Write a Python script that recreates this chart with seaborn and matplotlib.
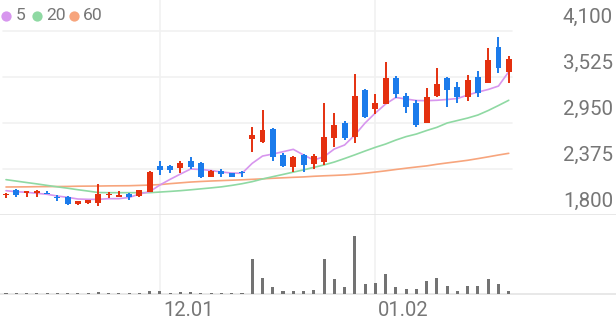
import numpy as np
import pandas as pd
import matplotlib
matplotlib.use("Agg")
import matplotlib.pyplot as plt
import matplotlib.transforms as mtransforms
from matplotlib.lines import Line2D
import seaborn as sns

# ---------------- data ----------------
dates = [d for d in pd.bdate_range("2022-11-10", "2023-01-19") if d != pd.Timestamp("2022-12-30")]

opens = [2050, 2110, 2070, 2080, 2075, 2025, 2020, 1937, 1946, 1955,
         2050, 2030, 2065, 2037, 2091, 2412, 2412, 2383, 2479, 2446,
         2280, 2354, 2321, 2330, 2744, 2712, 2881, 2544, 2396, 2554,
         2441, 2462, 2762, 2956, 2779, 3362, 3121, 3187, 3516, 3287,
         3204, 2946, 3287, 3508, 3396, 3279, 3529, 3446, 3896, 3591]
closes = [2065, 2050, 2105, 2090, 2065, 2010, 1935, 1975, 1987, 2060,
          2060, 2040, 2025, 2112, 2341, 2358, 2362, 2454, 2404, 2279,
          2355, 2312, 2279, 2320, 2800, 2862, 2529, 2409, 2529, 2425,
          2533, 2769, 2925, 2758, 3287, 3029, 3204, 3516, 3308, 3154,
          2925, 3279, 3433, 3362, 3279, 3487, 3321, 3737, 3634, 3746]
highs = [2080, 2125, 2105, 2112, 2100, 2050, 2037, 1975, 1990, 2185,
         2090, 2095, 2080, 2115, 2345, 2479, 2425, 2471, 2529, 2462,
         2360, 2375, 2325, 2354, 2904, 3112, 2890, 2571, 2535, 2560,
         2562, 3196, 3075, 2979, 3562, 3371, 3312, 3716, 3537, 3321,
         3237, 3383, 3633, 3521, 3466, 3550, 3604, 3883, 4021, 3787]
lows = [2010, 2030, 2030, 2030, 2060, 1975, 1925, 1925, 1940, 1912,
        2010, 2025, 1990, 2030, 2087, 2300, 2321, 2321, 2371, 2259,
        2275, 2271, 2275, 2279, 2591, 2696, 2475, 2396, 2341, 2341,
        2371, 2425, 2644, 2737, 2700, 3008, 3062, 3187, 3258, 3071,
        2904, 2946, 3271, 3146, 3204, 3229, 3279, 3446, 3579, 3454]
volumes = [35000, 30000, 25000, 25000, 25000, 30000, 25000, 25000, 30000, 85000,
           35000, 30000, 35000, 40000, 165000, 160000, 40000, 85000, 85000, 65000,
           50000, 35000, 35000, 35000, 1750000, 800000, 365000, 160000, 160000, 150000,
           180000, 1750000, 760000, 365000, 2880000, 500000, 550000, 1015000, 335000, 250000,
           250000, 665000, 785000, 385000, 165000, 415000, 400000, 750000, 500000, 150000]
ma5 = [2104, 2091, 2084, 2071, 2059, 2037, 2021, 2000, 1996, 1996,
       2004, 2004, 2019, 2062, 2091, 2175, 2246, 2312, 2375, 2369,
       2356, 2337, 2325, 2321, 2446, 2537, 2562, 2591, 2621, 2550,
       2487, 2529, 2625, 2675, 2800, 2950, 3075, 3187, 3269, 3250,
       3231, 3229, 3234, 3244, 3256, 3300, 3337, 3369, 3412, 3591]
ma20 = [2242, 2224, 2206, 2189, 2170, 2152, 2135, 2116, 2099, 2081,
        2079, 2079, 2079, 2079, 2079, 2087, 2095, 2104, 2115, 2127,
        2139, 2152, 2170, 2191, 2217, 2250, 2279, 2307, 2336, 2364,
        2395, 2426, 2462, 2506, 2552, 2600, 2646, 2687, 2737, 2780,
        2812, 2856, 2896, 2950, 2981, 3012, 3050, 3106, 3169, 3234]
ma60 = [2150, 2151, 2152, 2154, 2155, 2156, 2157, 2160, 2161, 2162,
        2164, 2165, 2166, 2170, 2174, 2180, 2192, 2202, 2212, 2219,
        2225, 2230, 2235, 2240, 2246, 2252, 2259, 2265, 2271, 2276,
        2284, 2290, 2295, 2301, 2310, 2322, 2337, 2352, 2369, 2385,
        2400, 2414, 2434, 2451, 2467, 2484, 2505, 2527, 2550, 2571]
price_ticks = [1800, 2375, 2950, 3525, 4100]
ma_labels = ["5", "20", "60"]

# ---------------- style ----------------
sns.set_style("white")
plt.rcParams["font.family"] = ["Roboto", "DejaVu Sans"]

UP = "#e4300f"
DOWN = "#1b7beb"
MA_COLORS = ["#d796ee", "#8fd9a3", "#f7a57d"]
TXT = "#767676"
GRID = "#f1f1f1"
SEP = "#e4e4e4"
VOL = "#737373"

W, H = 616, 321
fig = plt.figure(figsize=(W / 100, H / 100), dpi=100)

def px_axes(top, bottom):
    return fig.add_axes([0, 1 - bottom / H, 1, (bottom - top) / H])

ax = px_axes(0, 215)
axv = px_axes(215, 294)

n = len(dates)
x = np.arange(n)
step = 10.26
xlim = (-6 / step, (W - 6) / step)

# price panel
gap = price_ticks[1] - price_ticks[0]
ax.set_ylim(price_ticks[0], price_ticks[-1] + gap * 31 / 46)
for v in price_ticks[1:]:
    ax.axhline(v, xmin=3 / W, xmax=512 / W, color=GRID, lw=1.2, zorder=0)

month_idx = [i for i in range(1, n) if dates[i].month != dates[i - 1].month]
for i in month_idx:
    ax.axvline(i, color=GRID, lw=1.2, zorder=0)
    axv.axvline(i, color=GRID, lw=1.2, zorder=0)

df = pd.DataFrame({"i": x, "ma5": ma5, "ma20": ma20, "ma60": ma60, "vol": volumes})
for col, c in zip(["ma60", "ma20", "ma5"], MA_COLORS[::-1]):
    sns.lineplot(data=df, x="i", y=col, color=c, lw=1.2, ax=ax, zorder=2)

o = np.array(opens); c_ = np.array(closes)
colors = [UP if cc >= oo else DOWN for oo, cc in zip(o, c_)]
body_lo = np.minimum(o, c_)
body_h = np.maximum(np.abs(c_ - o), 14)
ax.vlines(x, lows, highs, colors=colors, lw=1.4, zorder=3)
ax.bar(x, body_h, bottom=body_lo, width=0.58, color=colors, linewidth=0, zorder=4)

ax.set_xlim(*xlim)
ax.set_xlabel(""); ax.set_ylabel("")
ax.set_xticks([]); ax.set_yticks([])
for s in ["top", "left", "right"]:
    ax.spines[s].set_visible(False)
ax.spines["bottom"].set_color(SEP)
ax.spines["bottom"].set_linewidth(1.2)

trans = mtransforms.blended_transform_factory(ax.transAxes, ax.transData) + \
    mtransforms.ScaledTranslation(-3 / 100, 14 / 100, fig.dpi_scale_trans)
for v in price_ticks:
    ax.text(1, v, f"{v:,}", transform=trans, ha="right", va="center",
            fontsize=14.8, color=TXT)

# volume panel
axv.bar(df["i"], df["vol"], width=0.3, color=VOL, linewidth=0, zorder=3)
axv.set_xlim(*xlim)
axv.set_ylim(0, max(volumes) / 0.73)
axv.set_xlabel(""); axv.set_ylabel("")
axv.set_xticks([]); axv.set_yticks([])
for s in ["top", "left", "right"]:
    axv.spines[s].set_visible(False)
axv.spines["bottom"].set_color(SEP)
axv.spines["bottom"].set_linewidth(1.2)

dtrans = mtransforms.blended_transform_factory(axv.transData, axv.transAxes) + \
    mtransforms.ScaledTranslation(3 / 100, -16 / 100, fig.dpi_scale_trans)
for i in month_idx:
    axv.text(i, 0, dates[i].strftime("%m.%d"), transform=dtrans, ha="left",
             va="center", fontsize=14.5, color=TXT)

# legend
dot_x = [6, 37, 74]
txt_x = [16, 46.5, 83]
for dx, tx, lab, col in zip(dot_x, txt_x, ma_labels, MA_COLORS):
    fig.add_artist(Line2D([dx / W], [1 - 16 / H], marker="o", markersize=7.4,
                          color=col, markeredgewidth=0, transform=fig.transFigure))
    fig.text(tx / W, 1 - 16 / H, lab, ha="left", va="center", fontsize=12.6, color=TXT)

fig.savefig("out.png", dpi=100)
